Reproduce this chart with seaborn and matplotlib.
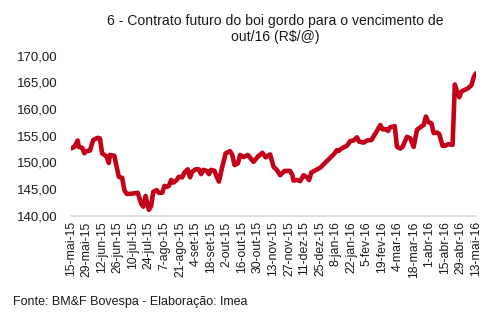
import matplotlib
matplotlib.use("Agg")
import matplotlib.pyplot as plt
import matplotlib.ticker as mticker
import pandas as pd
import seaborn as sns

# Preço de ajuste do contrato futuro do boi gordo, vencimento out/16 (R$/@)
dates = [
    "2015-05-15", "2015-05-18", "2015-05-21", "2015-05-22", "2015-05-25", "2015-05-27",
    "2015-05-28", "2015-06-01", "2015-06-04", "2015-06-08", "2015-06-10", "2015-06-12",
    "2015-06-16", "2015-06-18", "2015-06-19", "2015-06-23", "2015-06-25", "2015-06-27",
    "2015-06-30", "2015-07-02", "2015-07-04", "2015-07-07", "2015-07-11", "2015-07-14",
    "2015-07-17", "2015-07-19", "2015-07-21", "2015-07-24", "2015-07-26", "2015-07-28",
    "2015-07-31", "2015-08-02", "2015-08-05", "2015-08-07", "2015-08-09", "2015-08-11",
    "2015-08-13", "2015-08-15", "2015-08-18", "2015-08-20", "2015-08-23", "2015-08-25",
    "2015-08-28", "2015-08-30", "2015-09-01", "2015-09-04", "2015-09-07", "2015-09-09",
    "2015-09-11", "2015-09-14", "2015-09-16", "2015-09-18", "2015-09-21", "2015-09-23",
    "2015-09-25", "2015-09-28", "2015-09-30", "2015-10-01", "2015-10-05", "2015-10-07",
    "2015-10-09", "2015-10-12", "2015-10-14", "2015-10-17", "2015-10-20", "2015-10-21",
    "2015-10-26", "2015-10-30", "2015-11-03", "2015-11-06", "2015-11-10", "2015-11-13",
    "2015-11-16", "2015-11-19", "2015-11-23", "2015-11-28", "2015-11-30", "2015-12-01",
    "2015-12-04", "2015-12-07", "2015-12-10", "2015-12-13", "2015-12-15", "2015-12-17",
    "2015-12-25", "2016-01-07", "2016-01-09", "2016-01-11", "2016-01-13", "2016-01-18",
    "2016-01-21", "2016-01-24", "2016-01-27", "2016-01-29", "2016-02-02", "2016-02-05",
    "2016-02-09", "2016-02-14", "2016-02-17", "2016-02-19", "2016-02-23", "2016-02-24",
    "2016-02-26", "2016-03-01", "2016-03-03", "2016-03-06", "2016-03-08", "2016-03-12",
    "2016-03-15", "2016-03-18", "2016-03-21", "2016-03-24", "2016-03-27", "2016-03-29",
    "2016-03-31", "2016-04-03", "2016-04-05", "2016-04-08", "2016-04-10", "2016-04-13",
    "2016-04-15", "2016-04-18", "2016-04-22", "2016-04-24", "2016-04-26", "2016-04-28",
    "2016-04-30", "2016-05-03", "2016-05-06", "2016-05-09", "2016-05-11", "2016-05-13",
]
prices = [
    152.6, 152.9, 154.1, 152.9, 152.75, 151.7,
    152.1, 152.2, 154.2, 154.6, 154.5, 151.7,
    151.1, 149.9, 151.4, 151.25, 149.2, 147.3,
    147.1, 144.8, 144.1, 144.1, 144.2, 144.3,
    142.3, 141.7, 143.7, 141.1, 141.8, 144.5,
    144.8, 144.3, 144.3, 145.6, 145.4, 145.6,
    146.7, 146.2, 146.7, 147.3, 147.2, 148.1,
    148.7, 147.2, 148.25, 148.7, 148.7, 147.8,
    148.6, 148.4, 147.8, 148.6, 148.4, 147.3,
    146.4, 149.2, 150.8, 151.7, 152.1, 151.4,
    149.5, 149.8, 151.4, 151.0, 151.3, 151.4,
    150.1, 151.1, 151.8, 150.95, 151.5, 149.2,
    148.6, 147.6, 148.4, 148.4, 147.6, 146.6,
    146.7, 146.5, 147.6, 147.2, 146.7, 148.1,
    149.0, 151.7, 152.3, 152.2, 152.6, 153.1,
    154.0, 154.1, 154.7, 153.9, 153.7, 154.1,
    154.2, 155.9, 157.0, 156.2, 156.2, 155.9,
    156.6, 156.8, 152.9, 152.6, 152.9, 154.8,
    154.5, 152.9, 156.1, 156.6, 157.0, 158.6,
    157.6, 157.3, 155.5, 155.6, 155.3, 153.1,
    153.1, 153.4, 153.3, 164.6, 163.3, 162.2,
    163.3, 163.6, 163.9, 164.5, 166.0, 166.7,
]

# Datas exibidas no eixo horizontal (a cada 14 dias)
tick_start = "2015-05-15"
tick_end = "2016-05-13"
month_abbr = ["jan", "fev", "mar", "abr", "mai", "jun",
              "jul", "ago", "set", "out", "nov", "dez"]
y_ticks = [140, 145, 150, 155, 160, 165, 170]

title = "6 - Contrato futuro do boi gordo para o vencimento de\nout/16 (R$/@)"
source = "Fonte: BM&F Bovespa - Elaboração: Imea"

df = pd.DataFrame({"data": pd.to_datetime(dates), "preco": prices})

sns.set_theme(style="white")
plt.rcParams["font.family"] = ["Liberation Sans", "DejaVu Sans"]

fig = plt.figure(figsize=(4.96, 3.22), dpi=100)
ax = fig.add_axes([0.1431, 0.330, 0.8165, 0.497])

sns.lineplot(data=df, x="data", y="preco", ax=ax, color="#C40018",
             linewidth=3.3, solid_joinstyle="round", solid_capstyle="round")

tick_dates = pd.date_range(tick_start, tick_end, freq="14D")
ax.set_xlim(tick_dates[0], tick_dates[-1])
ax.set_xticks(tick_dates)
ax.set_xticklabels([f"{d.day}-{month_abbr[d.month - 1]}-{d.strftime('%y')}"
                    for d in tick_dates], rotation=90, fontsize=8.8,
                   color="#1a1a1a")

ax.set_ylim(y_ticks[0], y_ticks[-1])
ax.set_yticks(y_ticks)
ax.yaxis.set_major_formatter(
    mticker.FuncFormatter(lambda v, _: f"{v:.2f}".replace(".", ",")))
ax.tick_params(axis="y", labelsize=9.5, labelcolor="#1a1a1a", length=0, pad=10)
ax.tick_params(axis="x", length=4, width=1, color="#d9d9d9", pad=2,
               direction="inout")

ax.set_xlabel("")
ax.set_ylabel("")
for side in ("top", "right", "left"):
    ax.spines[side].set_visible(False)
ax.spines["bottom"].set_color("#d9d9d9")
ax.spines["bottom"].set_linewidth(1.2)

fig.text(275 / 496, 1 - 29 / 322, title, ha="center", va="center",
         fontsize=10.1, color="#1a1a1a", linespacing=1.12)
fig.text(13 / 496, 1 - 302 / 322, source, ha="left", va="center",
         fontsize=9.0, color="#1a1a1a")

fig.savefig("out.png", dpi=100)
